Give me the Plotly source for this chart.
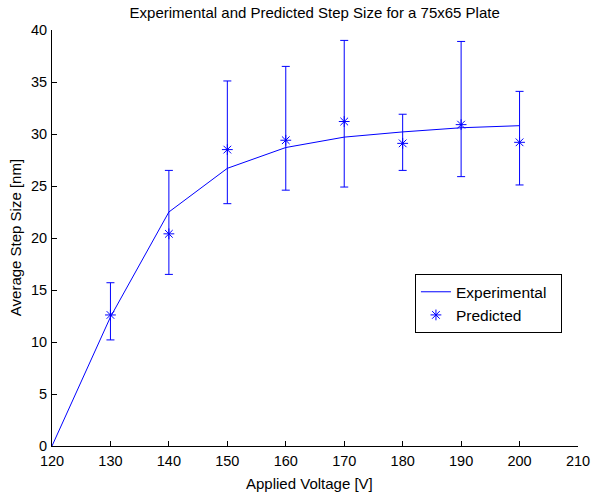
import plotly.graph_objects as go

# data
voltage = [120, 130, 140, 150, 160, 170, 180, 190, 200]
experimental = [0, 12.4, 22.5, 26.7, 28.7, 29.7, 30.2, 30.6, 30.8]

pred_voltage = [130, 140, 150, 160, 170, 180, 190, 200]
predicted = [12.6, 20.4, 28.5, 29.4, 31.2, 29.1, 30.9, 29.2]
err_top = [15.7, 26.5, 35.1, 36.5, 39.0, 31.9, 38.9, 34.1]
err_bottom = [10.2, 16.5, 23.3, 24.6, 24.9, 26.5, 25.9, 25.1]

err_plus = [t - p for t, p in zip(err_top, predicted)]
err_minus = [p - b for p, b in zip(predicted, err_bottom)]

BLUE = "#0000FF"
FONT = "Liberation Sans, Arial, sans-serif"

fig = go.Figure()

fig.add_trace(go.Scatter(
    x=voltage, y=experimental, mode="lines", name="Experimental\u00a0\u00a0",
    line=dict(color=BLUE, width=1),
))

fig.add_trace(go.Scatter(
    x=pred_voltage, y=predicted, mode="markers", name="Predicted",
    marker=dict(symbol="asterisk-open", size=9, color=BLUE,
                line=dict(color=BLUE, width=1)),
    error_y=dict(type="data", symmetric=False, array=err_plus,
                 arrayminus=err_minus, color=BLUE, thickness=1, width=4),
))

axis_style = dict(
    showline=True, linecolor="black", linewidth=1,
    ticks="inside", ticklen=5, tickcolor="black",
    showgrid=False, zeroline=False, mirror=False, automargin=False,
    tickfont=dict(size=14.5, color="black", family=FONT),
)

fig.update_layout(
    width=596, height=493,
    margin=dict(l=52, r=18, t=30, b=47),
    paper_bgcolor="white", plot_bgcolor="white",
    title=dict(text="Experimental and Predicted Step Size for a 75x65 Plate",
               x=0.528, xanchor="center", y=0.975, yanchor="middle",
               font=dict(size=15, color="black", family=FONT)),
    font=dict(family=FONT, size=15, color="black"),
    legend=dict(x=0.69, y=0.413, xanchor="left", yanchor="top",
                bordercolor="black", borderwidth=1, bgcolor="white",
                font=dict(size=15.5, color="black", family=FONT),
                tracegroupgap=0, itemwidth=30),
    xaxis=dict(range=[120, 210], dtick=10, ticklabelstandoff=2, **axis_style),
    yaxis=dict(range=[0, 40], dtick=5, ticklabelstandoff=1, **axis_style),
)

# axis titles placed as annotations
fig.add_annotation(text="Applied Voltage [V]", xref="paper", yref="paper",
                   x=0.49, y=-0.089, xanchor="center", yanchor="middle",
                   showarrow=False, font=dict(size=15, family=FONT, color="black"))
fig.add_annotation(text="Average Step Size [nm]", xref="paper", yref="paper",
                   x=-0.07, y=0.5, xanchor="center", yanchor="middle",
                   textangle=-90, showarrow=False,
                   font=dict(size=15, family=FONT, color="black"))

# drop the default body margin so the figure sits at the window's corner
fig.write_html("out.html", config={"displayModeBar": False},
               post_script="document.body.style.margin='0px';")
